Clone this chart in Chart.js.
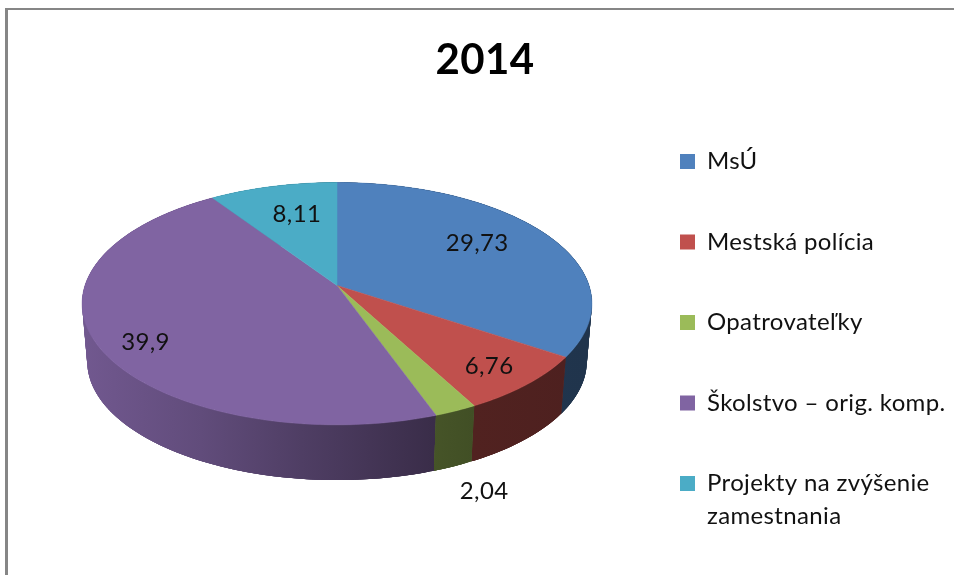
<!DOCTYPE html>
<html lang="sk">
<head>
<meta charset="utf-8">
<title>2014</title>
<script src="https://cdn.jsdelivr.net/npm/chart.js@4"></script>
<style>
  html, body { margin: 0; padding: 0; background: #fff; overflow: hidden; }
  canvas { display: block; }
</style>
</head>
<body>
<canvas id="pie-chart" width="954" height="575"></canvas>
<script>
const chartTitle = "2014";
const categories = [
  "MsÚ",
  "Mestská polícia",
  "Opatrovateľky",
  "Školstvo – orig. komp.",
  ["Projekty na zvýšenie", "zamestnania"]
];
const seriesValues = [29.73, 6.76, 2.04, 39.9, 8.11];
const sliceColors = ["#4f81bd", "#c0504d", "#9bbb59", "#8064a2", "#4bacc6"];

// where each value label sits, as a fraction of the slice's mid rim point
const labelFractions = [
  [0.666, 0.794],
  [0.814, 0.838],
  [1.14, 1.51],
  [0.794, 0.995],
  [0.603, 0.689]
];

// the tilted look of the pie
const squash = 0.47;
const perspective = 0.15;
const wallDrop = 58;
const wallScale = 0.98;
const wallShadeStops = [[0, 0.88], [0.23, 0.76], [0.43, 0.62], [0.69, 0.45], [0.77, 0.42], [1, 0.4]];

function project(arc, u, v) {
  const w = 1 / (1 - perspective * v);
  return {
    x: arc.x + arc.outerRadius * u * w,
    y: arc.y + arc.outerRadius * squash * v * w
  };
}

function rimPoints(arc) {
  const steps = Math.max(2, Math.ceil((arc.endAngle - arc.startAngle) * 60));
  const points = [];
  for (let i = 0; i <= steps; i++) {
    const angle = arc.startAngle + (arc.endAngle - arc.startAngle) * i / steps;
    points.push(project(arc, Math.cos(angle), Math.sin(angle)));
  }
  return points;
}

function shade(hex, factor) {
  const n = parseInt(hex.slice(1), 16);
  const r = Math.round((n >> 16 & 255) * factor);
  const g = Math.round((n >> 8 & 255) * factor);
  const b = Math.round((n & 255) * factor);
  return "rgb(" + r + "," + g + "," + b + ")";
}

function drawWall(ctx, arc, color) {
  const points = rimPoints(arc);
  const gradient = ctx.createLinearGradient(arc.x - arc.outerRadius, 0, arc.x + arc.outerRadius, 0);
  wallShadeStops.forEach((stop) => gradient.addColorStop(stop[0], shade(color, stop[1])));
  const lower = (p) => ({
    x: arc.x + (p.x - arc.x) * wallScale,
    y: arc.y + (p.y - arc.y) * wallScale + wallDrop
  });

  ctx.fillStyle = gradient;
  ctx.beginPath();
  points.forEach((p, i) => (i ? ctx.lineTo(p.x, p.y) : ctx.moveTo(p.x, p.y)));
  points.slice().reverse().forEach((p) => {
    const q = lower(p);
    ctx.lineTo(q.x, q.y);
  });
  ctx.closePath();
  ctx.fill();

  // overlapping quads close up the sides where the wall turns away
  for (let i = 0; i < points.length - 1; i++) {
    const a = points[i];
    const b = points[Math.min(i + 3, points.length - 1)];
    const c = lower(b);
    const d = lower(a);
    ctx.beginPath();
    ctx.moveTo(a.x, a.y);
    ctx.lineTo(b.x, b.y);
    ctx.lineTo(c.x, c.y);
    ctx.lineTo(d.x, d.y);
    ctx.closePath();
    ctx.fill();
  }
}

function drawTop(ctx, arc, color) {
  ctx.beginPath();
  ctx.moveTo(arc.x, arc.y);
  rimPoints(arc).forEach((p) => ctx.lineTo(p.x, p.y));
  ctx.closePath();
  ctx.fillStyle = color;
  ctx.strokeStyle = color;
  ctx.lineWidth = 0.5;
  ctx.fill();
  ctx.stroke();
}

const tiltedPie = {
  id: "tiltedPie",
  beforeDraw(chart) {
    // frame of the original picture, left and top only
    const ctx = chart.ctx;
    ctx.fillStyle = "#868686";
    ctx.fillRect(5, 8, 3, 567);
    ctx.fillRect(5, 8, 949, 2);
    ctx.letterSpacing = "0.35px";
  },
  afterLayout(chart) {
    chart.legend.left = 623.5;
    chart.legend.top = 93;
    chart.legend.bottom = 640;
    chart.titleBlock.top = 39;
  },
  beforeDatasetsDraw(chart) {
    const ctx = chart.ctx;
    const arcs = chart.getDatasetMeta(0).data;
    const midV = (arc) => Math.sin((arc.startAngle + arc.endAngle) / 2);

    ctx.save();
    arcs
      .map((arc, i) => i)
      .sort((a, b) => midV(arcs[a]) - midV(arcs[b]))
      .forEach((i) => drawWall(ctx, arcs[i], sliceColors[i]));
    arcs.forEach((arc, i) => drawTop(ctx, arc, sliceColors[i]));

    ctx.fillStyle = "#111";
    ctx.font = "24px Lato";
    ctx.textAlign = "center";
    ctx.textBaseline = "middle";
    arcs.forEach((arc, i) => {
      const mid = (arc.startAngle + arc.endAngle) / 2;
      const fraction = labelFractions[i];
      const spot = project(arc, Math.cos(mid) * fraction[0], Math.sin(mid) * fraction[1]);
      ctx.fillText(String(seriesValues[i]).replace(".", ","), spot.x, spot.y);
    });
    ctx.restore();
    return false;
  }
};

new Chart(document.getElementById("pie-chart"), {
  type: "pie",
  data: {
    labels: categories,
    datasets: [
      {
        data: seriesValues,
        backgroundColor: sliceColors,
        borderWidth: 0,
        radius: 252
      }
    ]
  },
  options: {
    responsive: false,
    animation: false,
    layout: {
      padding: { left: 16, bottom: 46 }
    },
    plugins: {
      tooltip: { enabled: false },
      title: {
        display: true,
        text: chartTitle,
        color: "#000",
        font: { family: "Lato", size: 42, weight: "bold", lineHeight: 1 },
        padding: { top: 0, bottom: 0 }
      },
      legend: {
        position: "right",
        align: "start",
        maxWidth: 296,
        labels: {
          color: "#111",
          boxWidth: 15,
          boxHeight: 15,
          padding: 56.5,
          font: { family: "Lato", size: 24, lineHeight: 1.375 }
        }
      }
    }
  },
  plugins: [tiltedPie]
});
</script>
</body>
</html>
